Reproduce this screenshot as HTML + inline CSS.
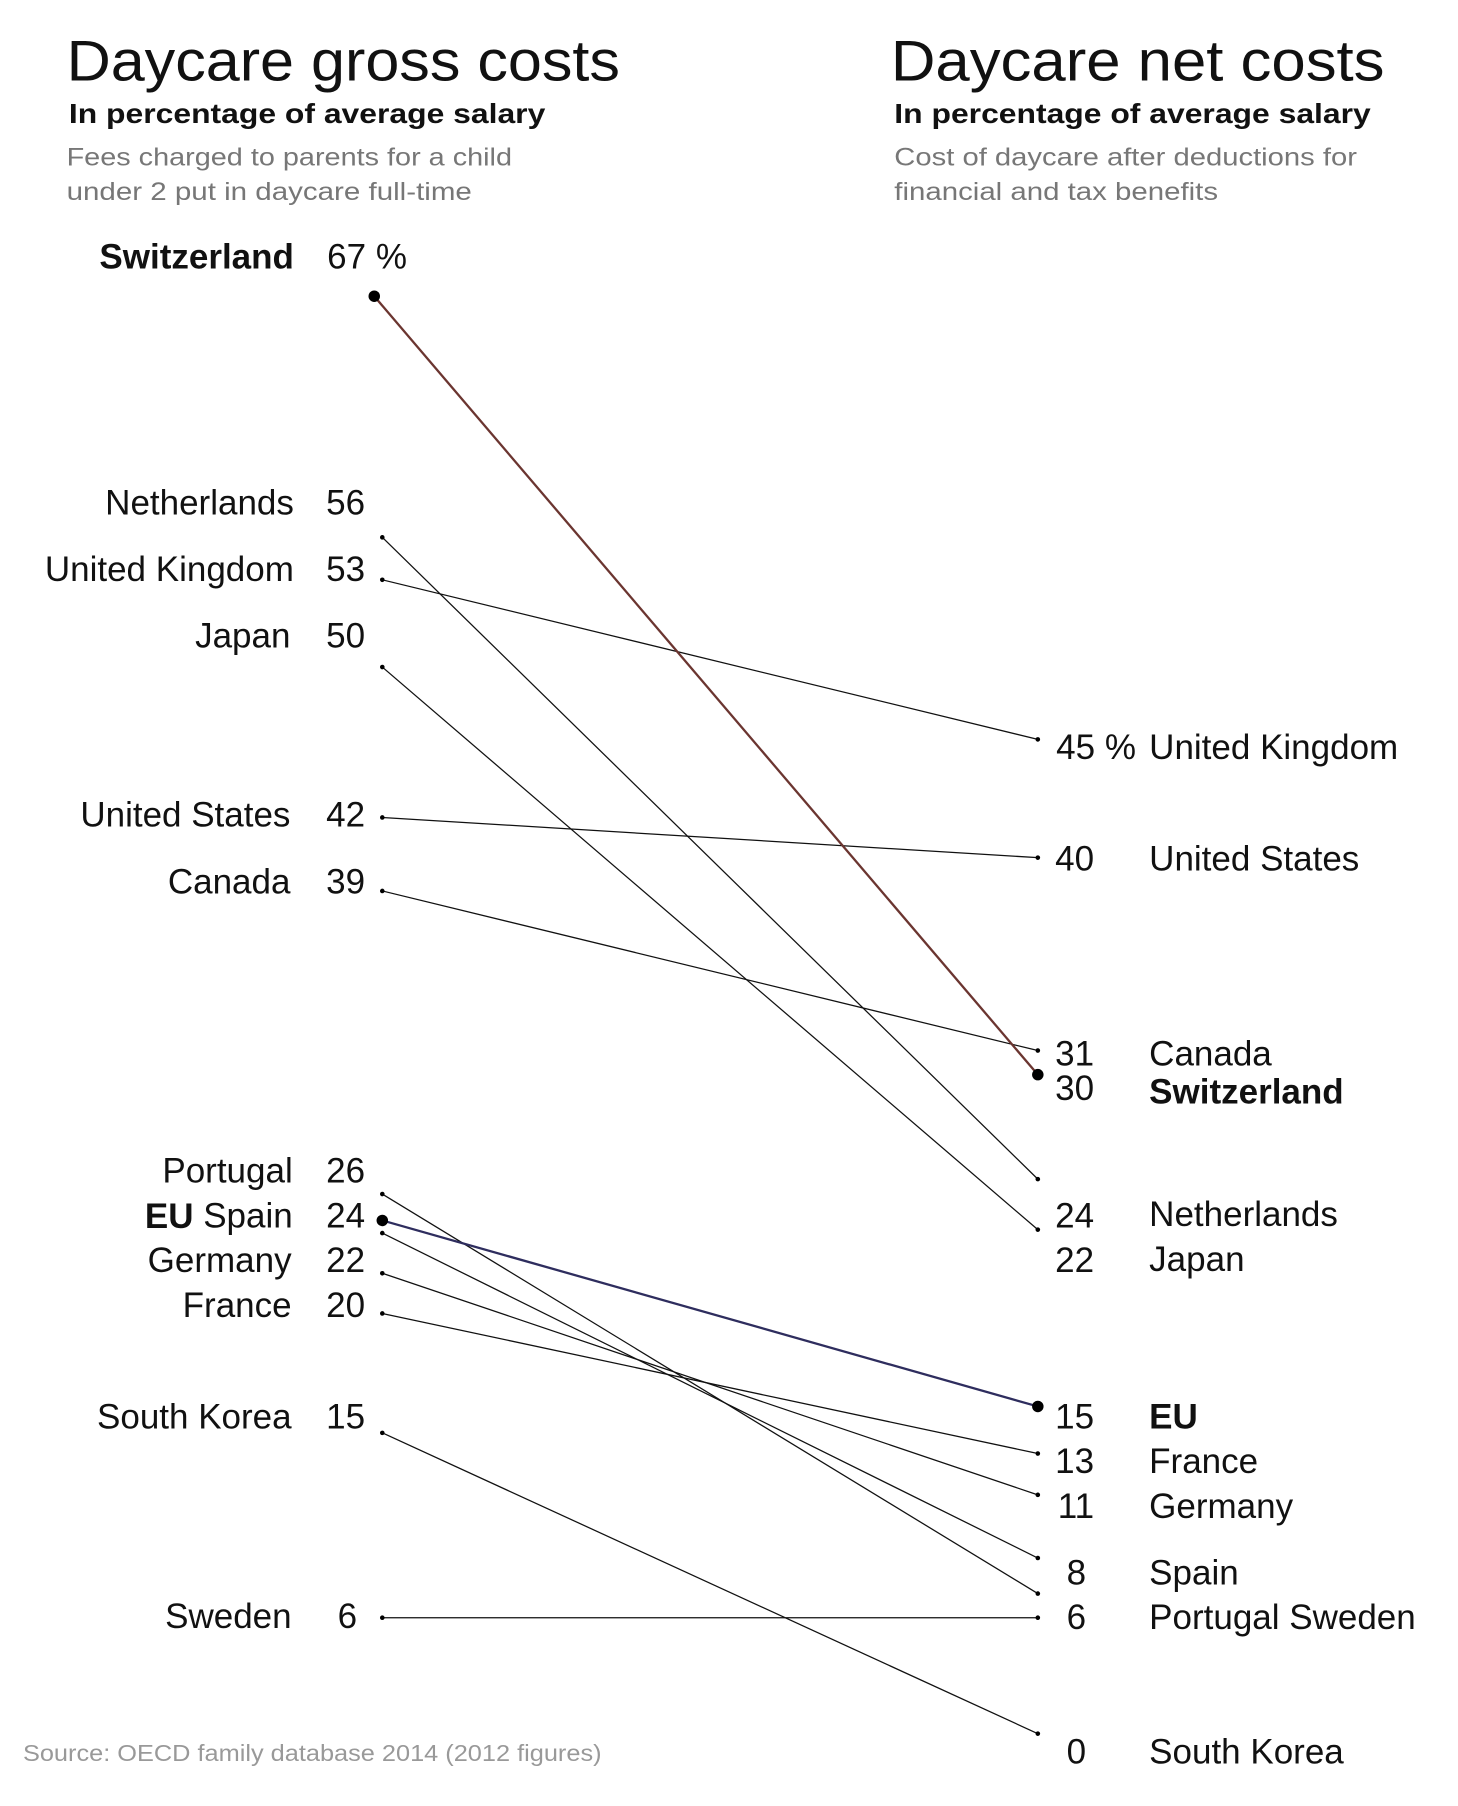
<!DOCTYPE html>
<html><head><meta charset="utf-8"><style>
html,body{margin:0;padding:0;background:#fff}
svg{display:block}
text{font-family:"Liberation Sans",sans-serif;fill:#111}
</style></head><body>
<svg width="1458" height="1806" viewBox="0 0 1270 1573" preserveAspectRatio="none">
<g font-weight="300">
<text x="58" y="70" font-size="50" textLength="482" lengthAdjust="spacingAndGlyphs">Daycare gross costs</text>
<text x="776" y="70" font-size="50" textLength="430" lengthAdjust="spacingAndGlyphs">Daycare net costs</text>
</g>
<text x="60" y="107" font-size="24" font-weight="bold" textLength="415" lengthAdjust="spacingAndGlyphs">In percentage of average salary</text>
<text x="779" y="107" font-size="24" font-weight="bold" textLength="415" lengthAdjust="spacingAndGlyphs">In percentage of average salary</text>
<g font-size="22">
<text x="58" y="144" textLength="388" lengthAdjust="spacingAndGlyphs" style="fill:#777">Fees charged to parents for a child</text>
<text x="58" y="174" textLength="353" lengthAdjust="spacingAndGlyphs" style="fill:#777">under 2 put in daycare full-time</text>
<text x="779" y="144" textLength="403" lengthAdjust="spacingAndGlyphs" style="fill:#777">Cost of daycare after deductions for</text>
<text x="779" y="174" textLength="282" lengthAdjust="spacingAndGlyphs" style="fill:#777">financial and tax benefits</text>
<text x="20" y="1534" font-size="20" textLength="504" lengthAdjust="spacingAndGlyphs" style="fill:#999">Source: OECD family database 2014 (2012 figures)</text>
</g>
<g stroke="#111" stroke-width="1.1" fill="none">
<line x1="333" y1="468" x2="904" y2="1027"/>
<line x1="333" y1="505" x2="904" y2="644"/>
<line x1="333" y1="581" x2="904" y2="1071"/>
<line x1="333" y1="712" x2="904" y2="747"/>
<line x1="333" y1="776" x2="904" y2="915"/>
<line x1="333" y1="1040" x2="904" y2="1388"/>
<line x1="333" y1="1074" x2="904" y2="1357"/>
<line x1="333" y1="1109" x2="904" y2="1302"/>
<line x1="333" y1="1144" x2="904" y2="1266"/>
<line x1="333" y1="1248" x2="904" y2="1510"/>
<line x1="333" y1="1409" x2="904" y2="1409"/>
</g>
<line x1="326" y1="258" x2="904" y2="936" stroke="#6b3530" stroke-width="2"/>
<line x1="333" y1="1063" x2="904" y2="1225" stroke="#2e2d5e" stroke-width="2"/>
<g fill="#000">
<circle cx="333" cy="468" r="2"/><circle cx="333" cy="505" r="2"/><circle cx="333" cy="581" r="2"/>
<circle cx="333" cy="712" r="2"/><circle cx="333" cy="776" r="2"/><circle cx="333" cy="1040" r="2"/>
<circle cx="333" cy="1074" r="2"/><circle cx="333" cy="1109" r="2"/><circle cx="333" cy="1144" r="2"/>
<circle cx="333" cy="1248" r="2"/><circle cx="333" cy="1409" r="2"/>
<circle cx="904" cy="1027" r="2"/><circle cx="904" cy="644" r="2"/><circle cx="904" cy="1071" r="2"/>
<circle cx="904" cy="747" r="2"/><circle cx="904" cy="915" r="2"/><circle cx="904" cy="1388" r="2"/>
<circle cx="904" cy="1357" r="2"/><circle cx="904" cy="1302" r="2"/><circle cx="904" cy="1266" r="2"/>
<circle cx="904" cy="1510" r="2"/><circle cx="904" cy="1409" r="2"/>
<circle cx="326" cy="258" r="5"/><circle cx="904" cy="936" r="5"/>
<circle cx="333" cy="1063" r="5"/><circle cx="904" cy="1225" r="5"/>
</g>
<g font-size="30.5" dominant-baseline="central" text-anchor="end">
<text x="256" y="224" font-weight="bold">Switzerland</text>
<text x="256" y="438">Netherlands</text>
<text x="256" y="496">United Kingdom</text>
<text x="253" y="554">Japan</text>
<text x="253" y="710">United States</text>
<text x="253" y="768">Canada</text>
<text x="255" y="1020">Portugal</text>
<text x="255" y="1059"><tspan font-weight="bold">EU</tspan> Spain</text>
<text x="254" y="1098">Germany</text>
<text x="254" y="1137">France</text>
<text x="254" y="1234">South Korea</text>
<text x="254" y="1408">Sweden</text>
<text x="318" y="438">56</text>
<text x="318" y="496">53</text>
<text x="318" y="554">50</text>
<text x="318" y="710">42</text>
<text x="318" y="768">39</text>
<text x="318" y="1020">26</text>
<text x="318" y="1059">24</text>
<text x="318" y="1098">22</text>
<text x="318" y="1137">20</text>
<text x="318" y="1234">15</text>
<text x="311" y="1408">6</text>
</g>
<text x="285" y="224" font-size="30.5" dominant-baseline="central">67 %</text>
<g font-size="30.5" dominant-baseline="central" text-anchor="end">
<text x="953" y="748">40</text>
<text x="953" y="918">31</text>
<text x="953" y="948">30</text>
<text x="953" y="1059">24</text>
<text x="953" y="1098">22</text>
<text x="953" y="1234">15</text>
<text x="953" y="1273">13</text>
<text x="953" y="1312">11</text>
<text x="946" y="1370">8</text>
<text x="946" y="1409">6</text>
<text x="946" y="1526">0</text>
</g>
<g font-size="30.5" dominant-baseline="central">
<text x="920" y="651">45 %</text>
<text x="1001" y="651">United Kingdom</text>
<text x="1001" y="748">United States</text>
<text x="1001" y="918">Canada</text>
<text x="1001" y="951" font-weight="bold">Switzerland</text>
<text x="1001" y="1058">Netherlands</text>
<text x="1001" y="1097">Japan</text>
<text x="1001" y="1234" font-weight="bold">EU</text>
<text x="1001" y="1273">France</text>
<text x="1001" y="1312">Germany</text>
<text x="1001" y="1370">Spain</text>
<text x="1001" y="1409">Portugal Sweden</text>
<text x="1001" y="1526">South Korea</text>
</g>
</svg>
</body></html>
